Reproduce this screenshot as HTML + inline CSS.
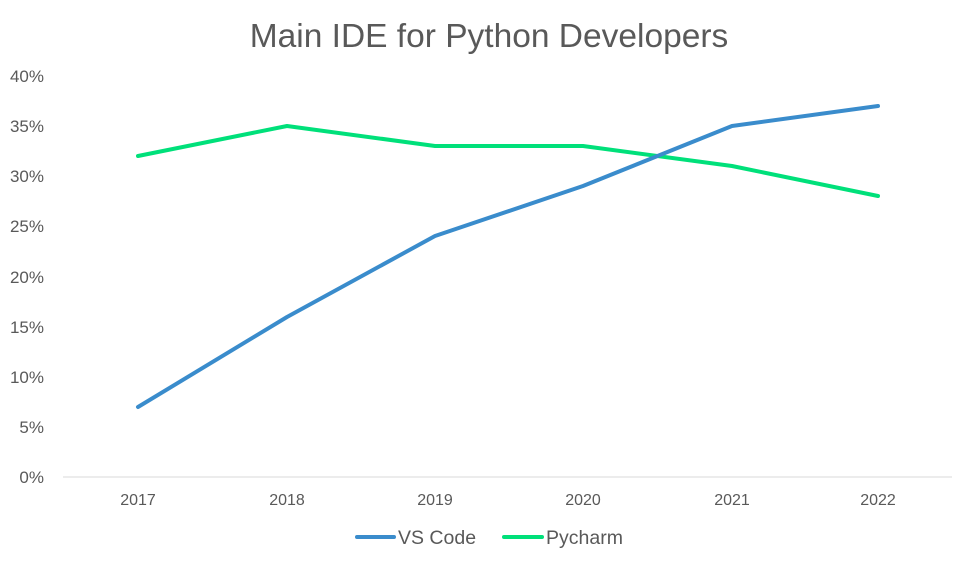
<!DOCTYPE html>
<html><head><style>body{margin:0;background:#fff}</style></head><body>
<svg width="978" height="568" xmlns="http://www.w3.org/2000/svg" font-family="Liberation Sans, sans-serif">
<rect width="978" height="568" fill="#fff"/>
<text x="489" y="47" text-anchor="middle" font-size="33.5" fill="#595959">Main IDE for Python Developers</text>
<g font-size="17" fill="#595959" text-anchor="end">
<text x="44" y="483">0%</text><text x="44" y="433">5%</text><text x="44" y="383">10%</text><text x="44" y="333">15%</text><text x="44" y="283">20%</text><text x="44" y="232">25%</text><text x="44" y="182">30%</text><text x="44" y="132">35%</text><text x="44" y="82">40%</text>
</g>
<line x1="63" y1="477" x2="952" y2="477" stroke="#d9d9d9" stroke-width="1"/>
<g font-size="16" fill="#595959" text-anchor="middle">
<text x="138" y="505">2017</text><text x="287" y="505">2018</text><text x="435" y="505">2019</text><text x="583" y="505">2020</text><text x="732" y="505">2021</text><text x="878" y="505">2022</text>
</g>
<polyline fill="none" stroke="#00e07a" stroke-width="4" stroke-linejoin="round" stroke-linecap="round" points="138,156 287,126 435,146 583,146 732,166 878,196"/>
<polyline fill="none" stroke="#3a8ccc" stroke-width="4" stroke-linejoin="round" stroke-linecap="round" points="138,407 287,317 435,236 583,186 732,126 878,106"/>
<line x1="357" y1="537" x2="394" y2="537" stroke="#3a8ccc" stroke-width="4" stroke-linecap="round"/>
<text x="398" y="544" font-size="19.5" fill="#595959">VS Code</text>
<line x1="504" y1="537" x2="542" y2="537" stroke="#00e07a" stroke-width="4" stroke-linecap="round"/>
<text x="546" y="544" font-size="19.5" fill="#595959">Pycharm</text>
</svg>
</body></html>
